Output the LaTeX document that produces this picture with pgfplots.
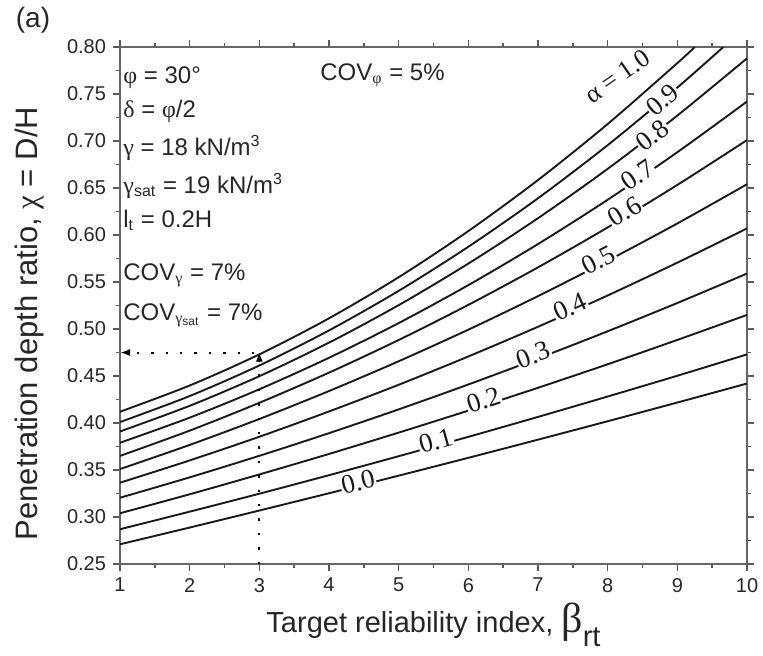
\documentclass[border=0pt]{standalone}
\usepackage{fontspec}
\setmainfont{Liberation Sans}
\newfontfamily\gr{Liberation Serif}
\usepackage{pgfplots}
\pgfplotsset{compat=1.18}
\usetikzlibrary{arrows.meta}
\begin{document}
\begin{tikzpicture}
\begin{axis}[
  scale only axis, width=313.5pt, height=258.5pt,
  xmin=1, xmax=10, ymin=0.25, ymax=0.80,
  xtick={1,2,...,10},
  ytick={0.25,0.30,0.35,0.40,0.45,0.50,0.55,0.60,0.65,0.70,0.75,0.80},
  minor x tick num=1, minor y tick num=1,
  tick align=outside,
  major tick length=3.5pt, minor tick length=2pt,
  axis line style={black!60, line width=1.1pt},
  every tick/.style={black!65, line width=0.8pt},
  /pgf/number format/assume math mode=true,
  tick label style={font=\fontsize{10}{12}\selectfont, text=black!85},
  yticklabel style={/pgf/number format/.cd, fixed, fixed zerofill, precision=2},
  xlabel={Target reliability index, {\gr\fontsize{21}{21}\selectfont β}\raisebox{-0.5em}{rt}},
  ylabel={Penetration depth ratio, {\gr χ} = D/H},
  xlabel style={font=\fontsize{14.5}{16}\selectfont, text=black!85,
    at={(axis description cs:0.5,-0.118)}, anchor=center},
  ylabel style={font=\fontsize{15.5}{17}\selectfont, text=black!85,
    at={(axis description cs:-0.1435,0.465)}, anchor=center},
  cycle list={black!90, solid, line width=0.95pt, smooth, mark=none\\},
  clip=true,
]
% alpha = 0.0 ... 1.0
\addplot coordinates {(1,0.2710)(2,0.2888)(3,0.3069)(4,0.3253)(5,0.3440)(6,0.3630)(7,0.3823)(8,0.4019)(9,0.4218)(10,0.4420)};
\addplot coordinates {(1,0.2870)(2,0.3057)(3,0.3248)(4,0.3445)(5,0.3647)(6,0.3853)(7,0.4065)(8,0.4282)(9,0.4503)(10,0.4730)};
\addplot coordinates {(1,0.3040)(2,0.3242)(3,0.3453)(4,0.3671)(5,0.3898)(6,0.4132)(7,0.4375)(8,0.4625)(9,0.4884)(10,0.5150)};
\addplot coordinates {(1,0.3205)(2,0.3422)(3,0.3651)(4,0.3892)(5,0.4145)(6,0.4410)(7,0.4687)(8,0.4976)(9,0.5277)(10,0.5590)};
\addplot coordinates {(1,0.3365)(2,0.3602)(3,0.3854)(4,0.4123)(5,0.4407)(6,0.4708)(7,0.5024)(8,0.5357)(9,0.5706)(10,0.6070)};
\addplot coordinates {(1,0.3510)(2,0.3767)(3,0.4043)(4,0.4340)(5,0.4657)(6,0.4993)(7,0.5350)(8,0.5727)(9,0.6123)(10,0.6540)};
\addplot coordinates {(1,0.3650)(2,0.3919)(3,0.4215)(4,0.4536)(5,0.4883)(6,0.5257)(7,0.5656)(8,0.6081)(9,0.6533)(10,0.7010)};
\addplot coordinates {(1,0.3790)(2,0.4057)(3,0.4359)(4,0.4694)(5,0.5063)(6,0.5467)(7,0.5904)(8,0.6375)(9,0.6881)(10,0.7420)};
\addplot coordinates {(1,0.3910)(2,0.4183)(3,0.4498)(4,0.4855)(5,0.5254)(6,0.5696)(7,0.6179)(8,0.6704)(9,0.7271)(10,0.7880)};
\addplot coordinates {(1,0.4010)(2,0.4287)(3,0.4612)(4,0.4985)(5,0.5406)(6,0.5875)(7,0.6391)(8,0.6956)(9,0.7569)(9.66,0.8000)};
\addplot coordinates {(1,0.4120)(2,0.4399)(3,0.4730)(4,0.5114)(5,0.5551)(6,0.6042)(7,0.6585)(8,0.7181)(9,0.7829)(9.25,0.8000)};

% design example: beta_rt = 3 gives chi = 0.475
\addplot[black, line width=1pt, sharp plot, dash pattern=on 1.2pt off 6pt,
  -{Latex[length=5pt,width=3.5pt]}] coordinates {(3,0.25)(3,0.476)};
\addplot[black, line width=1pt, sharp plot, dash pattern=on 1.2pt off 6pt,
  -{Latex[length=5pt,width=3.5pt]}] coordinates {(2.93,0.475)(1,0.475)};

% curve labels
\begin{scope}[every node/.style={font=\gr\fontsize{13.5}{13.5}\selectfont, fill=white, inner sep=0.5pt, text=black!90}]
\node[rotate=14.2, yshift=2pt] at (axis cs:4.43,0.3333) {0.0};
\node[rotate=15.6, yshift=2.5pt] at (axis cs:5.55,0.3760) {0.1};
\node[rotate=17.9, yshift=2.5pt] at (axis cs:6.24,0.4190) {0.2};
\node[rotate=20.9, yshift=2.5pt] at (axis cs:6.96,0.4676) {0.3};
\node[rotate=24.1, yshift=2.5pt] at (axis cs:7.49,0.5185) {0.4};
\node[rotate=27.4, yshift=2.5pt] at (axis cs:7.90,0.5688) {0.5};
\node[rotate=31.0, yshift=2.5pt] at (axis cs:8.28,0.6205) {0.6};
\node[rotate=34.2, yshift=2pt] at (axis cs:8.46,0.6604) {0.7};
\node[rotate=37.7] at (axis cs:8.64,0.7062) {0.8};
\node[rotate=40.0] at (axis cs:8.79,0.7437) {0.9};
\node[rotate=35.0, fill=none, font=\gr\fontsize{13}{13}\selectfont] at (axis cs:8.14,0.769) {α = 1.0};
\end{scope}
\end{axis}

% input parameters
\begin{scope}[every node/.style={anchor=base west, inner sep=0pt, font=\fontsize{12}{14}\selectfont, text=black!85}]
\node at (1.5pt,240.5pt) {{\gr φ} = 30°};
\node at (1.5pt,223.5pt) {{\gr δ} = {\gr φ}/2};
\node at (1.5pt,204.5pt) {{\gr γ} = 18 kN/m\textsuperscript{3}};
\node at (1.5pt,185.5pt) {{\gr γ}\textsubscript{sat} = 19 kN/m\textsuperscript{3}};
\node at (1.5pt,168.5pt) {l\textsubscript{t} = 0.2H};
\node at (1.5pt,142pt) {COV\textsubscript{\gr γ} = 7\%};
\node at (1.5pt,122pt) {COV\textsubscript{{\gr γ}\textsubscript{sat}} = 7\%};
\node at (100pt,242pt) {COV\textsubscript{\gr φ} = 5\%};
\end{scope}
\node[font=\fontsize{14}{16}\selectfont, text=black!85] at (-43.5pt,272pt) {(a)};

\pgfresetboundingbox
\path (-60pt,-45.5pt) rectangle (321.5pt,282pt);
\end{tikzpicture}
\end{document}
